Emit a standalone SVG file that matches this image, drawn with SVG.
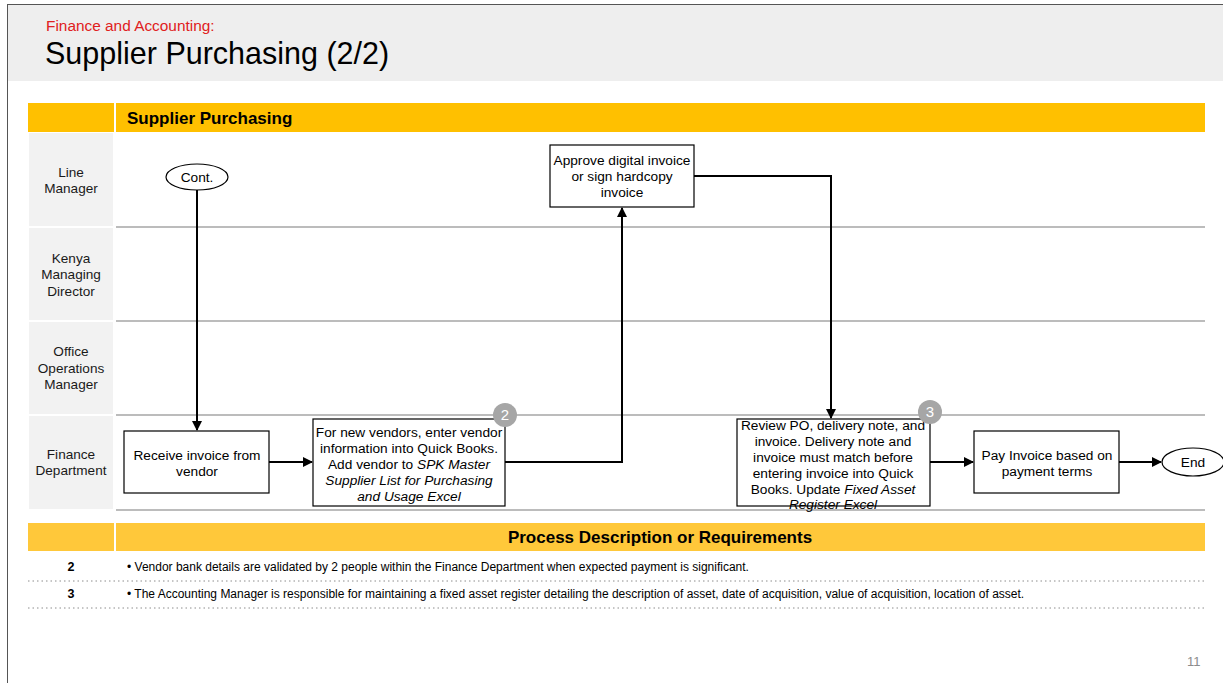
<svg xmlns="http://www.w3.org/2000/svg" width="1223" height="683" viewBox="0 0 1223 683">
<style>
text{font-family:"Liberation Sans",Arial,sans-serif;}
.lane{fill:#f2f2f2;}
.lt{font-size:13.6px;fill:#1a1a1a;text-anchor:middle;}
.sep{stroke:#a6a6a6;stroke-width:1.5;}
.box{fill:#fff;stroke:#000;stroke-width:1.2;}
.nt{font-size:13.7px;fill:#000;text-anchor:middle;}
.badge{fill:#a6a6a6;}
.bt{font-size:15px;fill:#fff;text-anchor:middle;}
.con{fill:none;stroke:#000;stroke-width:2;marker-end:url(#arr);}
.dot{stroke:#8c8c8c;stroke-width:1;stroke-dasharray:1.5 3;}
.rt{font-size:12px;fill:#000;}
</style>
<defs>
<marker id="arr" viewBox="0 0 10 10" refX="9" refY="5" markerWidth="5.5" markerHeight="5" orient="auto" markerUnits="strokeWidth">
<path d="M0,0 L10,5 L0,10 z" fill="#000"/>
</marker>
</defs>
<rect x="0" y="0" width="1223" height="683" fill="#fff"/>
<rect x="8" y="5" width="1215" height="76" fill="#eeeeee"/>
<line x1="8" y1="4.5" x2="1223" y2="4.5" stroke="#555" stroke-width="1"/>
<line x1="7.5" y1="4" x2="7.5" y2="683" stroke="#555" stroke-width="1"/>
<text x="46" y="31" font-size="15.4" fill="#e02020">Finance and Accounting:</text>
<text x="45" y="64" font-size="30.5" fill="#000">Supplier Purchasing (2/2)</text>

<g id="header">
<rect x="28" y="103" width="86" height="29" fill="#ffc000"/>
<rect x="116" y="103" width="1089" height="29" fill="#ffc000"/>
<text x="127" y="124" font-size="17" font-weight="bold" fill="#000">Supplier Purchasing</text>
</g>

<g id="lanes">
<rect class="lane" x="29" y="133" width="84" height="93"/>
<rect class="lane" x="29" y="228" width="84" height="92"/>
<rect class="lane" x="29" y="322" width="84" height="92"/>
<rect class="lane" x="29" y="416" width="84" height="93"/>
<text class="lt" x="71" y="177">Line</text>
<text class="lt" x="71" y="193">Manager</text>
<text class="lt" x="71" y="263">Kenya</text>
<text class="lt" x="71" y="279">Managing</text>
<text class="lt" x="71" y="296">Director</text>
<text class="lt" x="71" y="356">Office</text>
<text class="lt" x="71" y="373">Operations</text>
<text class="lt" x="71" y="389">Manager</text>
<text class="lt" x="71" y="459">Finance</text>
<text class="lt" x="71" y="475">Department</text>
<line class="sep" x1="116" y1="227" x2="1205" y2="227"/>
<line class="sep" x1="116" y1="321" x2="1205" y2="321"/>
<line class="sep" x1="116" y1="415" x2="1205" y2="415"/>
<line class="sep" x1="116" y1="510" x2="1205" y2="510"/>
</g>

<g id="connectors">
<path class="con" d="M197,190 V430"/>
<path class="con" d="M269,462 H312"/>
<path class="con" d="M505,462 H622 V208"/>
<path class="con" d="M694,176 H831 V418"/>
<path class="con" d="M930,462 H973"/>
<path class="con" d="M1119,462 H1161"/>
</g>

<g id="cont">
<ellipse cx="197" cy="177" rx="31" ry="13" fill="#fff" stroke="#000" stroke-width="1.2"/>
<text class="nt" x="197" y="182">Cont.</text>
</g>

<g id="receive">
<rect class="box" x="124" y="431" width="145" height="62"/>
<text class="nt" x="197" y="460">Receive invoice from</text>
<text class="nt" x="197" y="476">vendor</text>
</g>

<g id="newvendor">
<rect class="box" x="313" y="419" width="192" height="87"/>
<text class="nt" x="409" y="437">For new vendors, enter vendor</text>
<text class="nt" x="409" y="453">information into Quick Books.</text>
<text class="nt" x="409" y="469">Add vendor to <tspan font-style="italic">SPK Master</tspan></text>
<text class="nt" x="409" y="485" font-style="italic">Supplier List for Purchasing</text>
<text class="nt" x="409" y="501" font-style="italic">and Usage Excel</text>
<circle class="badge" cx="505" cy="415" r="12"/>
<text class="bt" x="505" y="420">2</text>
</g>

<g id="approve">
<rect class="box" x="550" y="145" width="144" height="62"/>
<text class="nt" x="622" y="165">Approve digital invoice</text>
<text class="nt" x="622" y="181">or sign hardcopy</text>
<text class="nt" x="622" y="197">invoice</text>
</g>

<g id="review">
<rect class="box" x="737" y="419" width="193" height="87"/>
<text class="nt" x="833" y="430">Review PO, delivery note, and</text>
<text class="nt" x="833" y="446">invoice. Delivery note and</text>
<text class="nt" x="833" y="462">invoice must match before</text>
<text class="nt" x="833" y="478">entering invoice into Quick</text>
<text class="nt" x="833" y="494">Books. Update <tspan font-style="italic">Fixed Asset</tspan></text>
<text class="nt" x="833" y="509" font-style="italic">Register Excel</text>
<circle class="badge" cx="930" cy="412" r="12"/>
<text class="bt" x="930" y="417">3</text>
</g>

<g id="pay">
<rect class="box" x="974" y="431" width="145" height="62"/>
<text class="nt" x="1047" y="460">Pay Invoice based on</text>
<text class="nt" x="1047" y="476">payment terms</text>
</g>

<g id="end">
<ellipse cx="1193" cy="462" rx="31" ry="14" fill="#fff" stroke="#000" stroke-width="1.2"/>
<text class="nt" x="1193" y="467">End</text>
</g>

<g id="requirements">
<rect x="28" y="523" width="86" height="28" fill="#ffc83a"/>
<rect x="116" y="523" width="1089" height="28" fill="#ffc83a"/>
<text x="660" y="543" font-size="17" font-weight="bold" fill="#000" text-anchor="middle">Process Description or Requirements</text>
<text x="71" y="571" font-size="12.5" font-weight="bold" text-anchor="middle">2</text>
<text class="rt" x="127" y="571">• Vendor bank details are validated by 2 people within the Finance Department when expected payment is significant.</text>
<line class="dot" x1="28" y1="581" x2="1205" y2="581"/>
<text x="71" y="598" font-size="12.5" font-weight="bold" text-anchor="middle">3</text>
<text class="rt" x="127" y="598">• The Accounting Manager is responsible for maintaining a fixed asset register detailing the description of asset, date of acquisition, value of acquisition, location of asset.</text>
<line class="dot" x1="28" y1="608" x2="1205" y2="608"/>
</g>

<text x="1187" y="666" font-size="13" fill="#8c8c8c">11</text>
</svg>
